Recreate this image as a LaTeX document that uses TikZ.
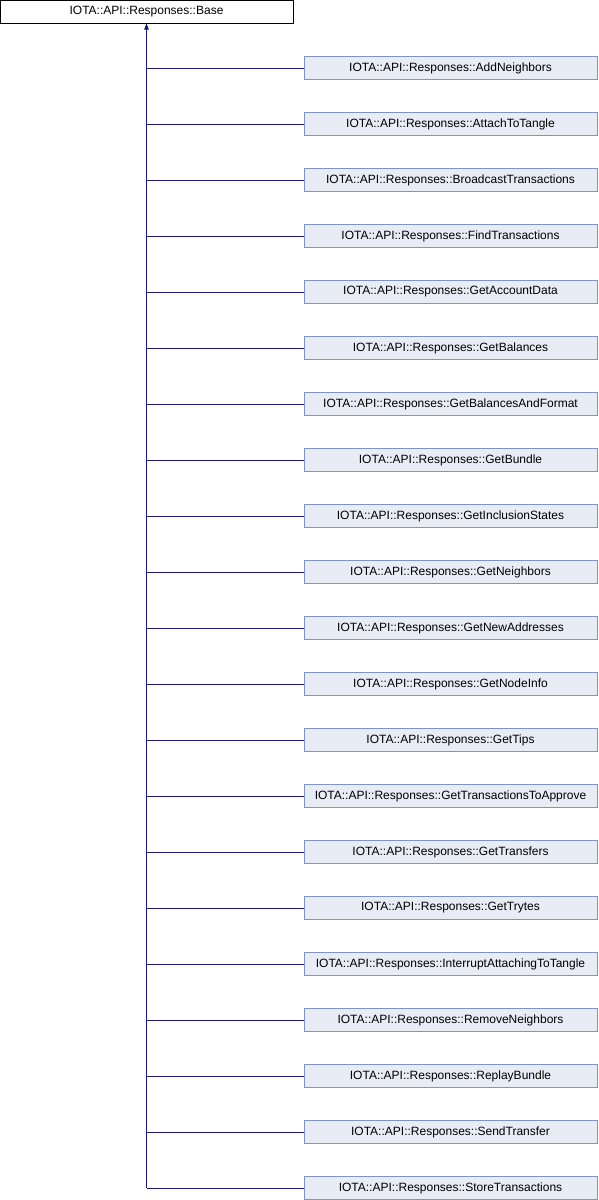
\documentclass[tikz,border=0pt]{standalone}
\usepackage{fontspec}
\setmainfont{Liberation Sans}
\usetikzlibrary{arrows.meta, positioning}

\definecolor{edgeblue}{HTML}{191970}
\definecolor{boxfill}{HTML}{E8ECF5}
\definecolor{boxline}{HTML}{7F93C6}

\begin{document}
\begin{tikzpicture}
  [
    x=1pt, y=-1pt,
    >={Triangle[width=4.5pt,length=6pt]},
    every node/.style = {font=\fontsize{12}{14}\selectfont},
    baseclass/.style = {draw=black, fill=white, line width=1pt, minimum width=293pt, minimum height=23pt, inner sep=0pt},
    derived/.style   = {draw=boxline, fill=boxfill, line width=1pt, minimum width=293pt, minimum height=23pt, inner sep=0pt},
    edge/.style      = {draw=edgeblue, line width=1pt},
  ]

  \useasboundingbox (0,0) rectangle (598,1200);

  % the base class
  \node (base) at (146.5,11.5) [baseclass] {IOTA::API::Responses::Base};

  % the derived classes
  \foreach \cls [count=\i from 0] in {AddNeighbors, AttachToTangle, BroadcastTransactions,
      FindTransactions, GetAccountData, GetBalances, GetBalancesAndFormat, GetBundle,
      GetInclusionStates, GetNeighbors, GetNewAddresses, GetNodeInfo, GetTips,
      GetTransactionsToApprove, GetTransfers, GetTrytes, InterruptAttachingToTangle,
      RemoveNeighbors, ReplayBundle, SendTransfer, StoreTransactions}
    {
      \node (c\i) at (450.5,68+56*\i) [derived] {IOTA::API::Responses::\cls};
      \draw[edge] (base.south |- c\i.west) -- (c\i.west);
    }

  % the trunk
  \coordinate (trunk) at (base.south |- c20.west);
  \draw[edge,->] (trunk) -- (base.south);

\end{tikzpicture}
\end{document}
